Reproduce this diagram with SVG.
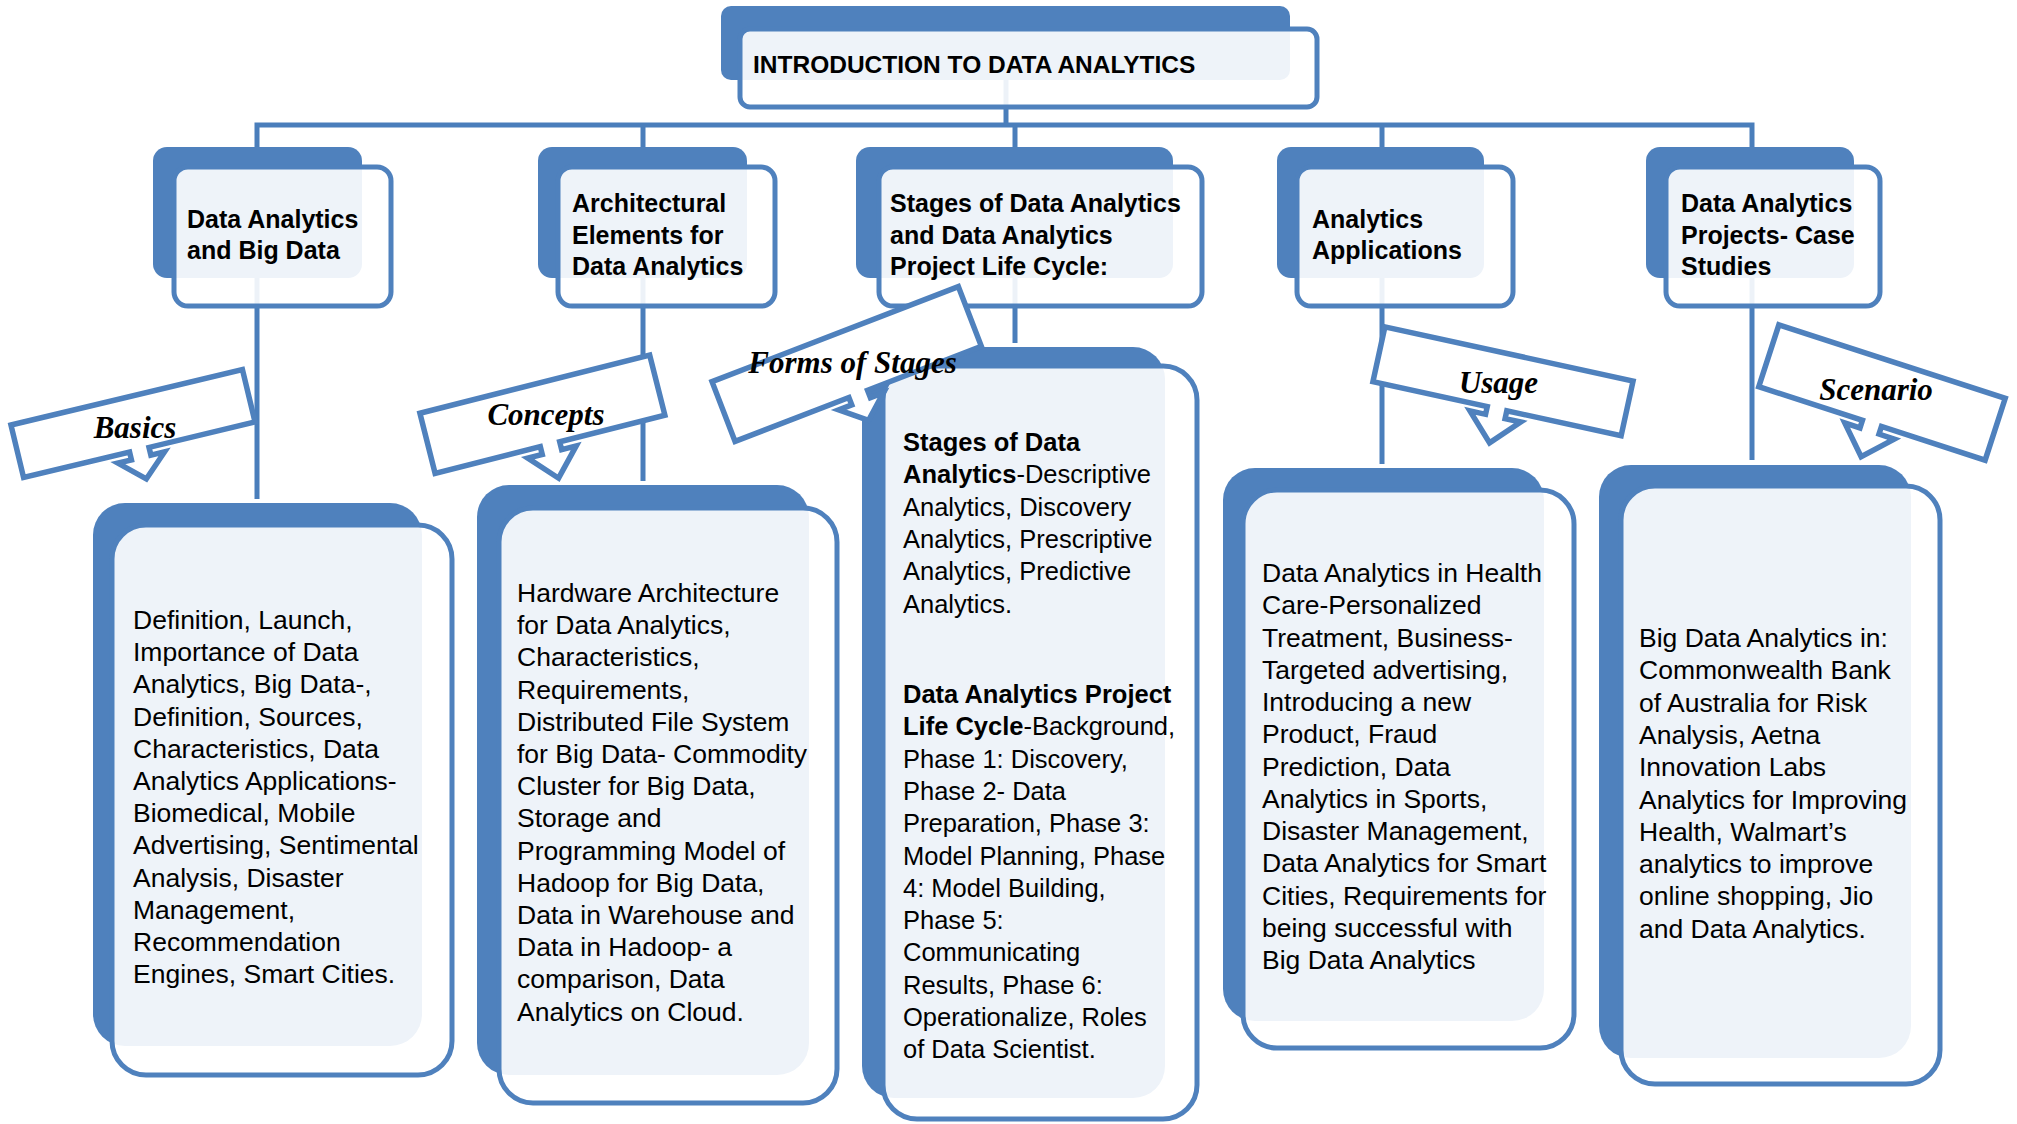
<svg xmlns="http://www.w3.org/2000/svg" width="2017" height="1124" viewBox="0 0 2017 1124">
<style>
.dk{fill:#4F81BD}
.fr{fill:#fff;fill-opacity:0.9;stroke:#4F81BD;stroke-width:5}
.ln{fill:none;stroke:#4A7EBB;stroke-width:5}
.co{fill:#fff;stroke:#4F81BD;stroke-width:5.5;stroke-linejoin:miter}
.h{font-family:"Liberation Sans",Arial,sans-serif;font-weight:bold;font-size:25px;fill:#000}
.t{font-family:"Liberation Sans",Arial,sans-serif;font-weight:bold;font-size:24.5px;fill:#000}
.b{font-family:"Liberation Sans",Arial,sans-serif;font-size:26.5px;fill:#000}
.s{font-family:"Liberation Sans",Arial,sans-serif;font-size:25.5px;fill:#000}
.s tspan.k{font-weight:bold}
.c{font-family:"Liberation Serif","Times New Roman",serif;font-style:italic;font-weight:bold;font-size:31px;fill:#000;text-anchor:middle}
</style>
<rect width="2017" height="1124" fill="#fff"/>

<g id="connectors">
<path class="ln" d="M1006,80 V125"/>
<path class="ln" d="M257,150 V125 H1752 V150"/>
<path class="ln" d="M643,125 V150 M1015,125 V150 M1382,125 V150"/>
<path class="ln" d="M257,270 V499 M643,270 V481 M1015,270 V343 M1382,270 V464 M1752,270 V460"/>
</g>

<g id="root">
<rect class="dk" x="721" y="6" width="569" height="74" rx="10"/>
<rect class="fr" x="740" y="29" width="577" height="78" rx="10"/>
<text class="t" x="753" y="73">INTRODUCTION TO DATA ANALYTICS</text>
</g>

<g id="n1">
<rect class="dk" x="153" y="147" width="209" height="131" rx="14"/>
<rect class="fr" x="174" y="167" width="217" height="139" rx="14"/>
<text class="h"><tspan x="187" y="228">Data Analytics</tspan><tspan x="187" y="259">and Big Data</tspan></text>
</g>
<g id="n2">
<rect class="dk" x="538" y="147" width="209" height="131" rx="14"/>
<rect class="fr" x="558" y="167" width="217" height="139" rx="14"/>
<text class="h"><tspan x="572" y="212">Architectural</tspan><tspan x="572" y="244">Elements for</tspan><tspan x="572" y="275">Data Analytics</tspan></text>
</g>
<g id="n3">
<rect class="dk" x="856" y="147" width="317" height="131" rx="14"/>
<rect class="fr" x="879" y="167" width="323" height="139" rx="14"/>
<text class="h"><tspan x="890" y="212">Stages of Data Analytics</tspan><tspan x="890" y="244">and Data Analytics</tspan><tspan x="890" y="275">Project Life Cycle:</tspan></text>
</g>
<g id="n4">
<rect class="dk" x="1277" y="147" width="207" height="131" rx="14"/>
<rect class="fr" x="1297" y="167" width="216" height="139" rx="14"/>
<text class="h"><tspan x="1312" y="228">Analytics</tspan><tspan x="1312" y="259">Applications</tspan></text>
</g>
<g id="n5">
<rect class="dk" x="1646" y="147" width="208" height="131" rx="14"/>
<rect class="fr" x="1666" y="167" width="214" height="139" rx="14"/>
<text class="h"><tspan x="1681" y="212">Data Analytics</tspan><tspan x="1681" y="244">Projects- Case</tspan><tspan x="1681" y="275">Studies</tspan></text>
</g>

<g id="d1">
<rect class="dk" x="93" y="503" width="329" height="543" rx="32"/>
<rect class="fr" x="112" y="525" width="340" height="550" rx="34"/>
<text class="b"><tspan x="133" y="629">Definition, Launch,</tspan><tspan x="133" dy="32.2">Importance of Data</tspan><tspan x="133" dy="32.2">Analytics, Big Data-,</tspan><tspan x="133" dy="32.2">Definition, Sources,</tspan><tspan x="133" dy="32.2">Characteristics, Data</tspan><tspan x="133" dy="32.2">Analytics Applications-</tspan><tspan x="133" dy="32.2">Biomedical, Mobile</tspan><tspan x="133" dy="32.2">Advertising, Sentimental</tspan><tspan x="133" dy="32.2">Analysis, Disaster</tspan><tspan x="133" dy="32.2">Management,</tspan><tspan x="133" dy="32.2">Recommendation</tspan><tspan x="133" dy="32.2">Engines, Smart Cities.</tspan></text>
</g>
<g id="d2">
<rect class="dk" x="477" y="485" width="332" height="590" rx="32"/>
<rect class="fr" x="499" y="508" width="338" height="595" rx="34"/>
<text class="b"><tspan x="517" y="602">Hardware Architecture</tspan><tspan x="517" dy="32.2">for Data Analytics,</tspan><tspan x="517" dy="32.2">Characteristics,</tspan><tspan x="517" dy="32.2">Requirements,</tspan><tspan x="517" dy="32.2">Distributed File System</tspan><tspan x="517" dy="32.2">for Big Data- Commodity</tspan><tspan x="517" dy="32.2">Cluster for Big Data,</tspan><tspan x="517" dy="32.2">Storage and</tspan><tspan x="517" dy="32.2">Programming Model of</tspan><tspan x="517" dy="32.2">Hadoop for Big Data,</tspan><tspan x="517" dy="32.2">Data in Warehouse and</tspan><tspan x="517" dy="32.2">Data in Hadoop- a</tspan><tspan x="517" dy="32.2">comparison, Data</tspan><tspan x="517" dy="32.2">Analytics on Cloud.</tspan></text>
</g>
<g id="d3">
<rect class="dk" x="862" y="347" width="303" height="751" rx="32"/>
<rect class="fr" x="883" y="366" width="314" height="753" rx="34"/>
<text class="s"><tspan x="903" y="451" class="k">Stages of Data</tspan><tspan x="903" dy="32.3"><tspan class="k">Analytics</tspan>-Descriptive</tspan><tspan x="903" dy="32.3">Analytics, Discovery</tspan><tspan x="903" dy="32.3">Analytics, Prescriptive</tspan><tspan x="903" dy="32.3">Analytics, Predictive</tspan><tspan x="903" dy="32.3">Analytics.</tspan><tspan x="903" y="703" class="k">Data Analytics Project</tspan><tspan x="903" dy="32.3"><tspan class="k">Life Cycle</tspan>-Background,</tspan><tspan x="903" dy="32.3">Phase 1: Discovery,</tspan><tspan x="903" dy="32.3">Phase 2- Data</tspan><tspan x="903" dy="32.3">Preparation, Phase 3:</tspan><tspan x="903" dy="32.3">Model Planning, Phase</tspan><tspan x="903" dy="32.3">4: Model Building,</tspan><tspan x="903" dy="32.3">Phase 5:</tspan><tspan x="903" dy="32.3">Communicating</tspan><tspan x="903" dy="32.3">Results, Phase 6:</tspan><tspan x="903" dy="32.3">Operationalize, Roles</tspan><tspan x="903" dy="32.3">of Data Scientist.</tspan></text>
</g>
<g id="d4">
<rect class="dk" x="1223" y="468" width="321" height="553" rx="32"/>
<rect class="fr" x="1243" y="490" width="331" height="558" rx="34"/>
<text class="b"><tspan x="1262" y="582">Data Analytics in Health</tspan><tspan x="1262" dy="32.25">Care-Personalized</tspan><tspan x="1262" dy="32.25">Treatment, Business-</tspan><tspan x="1262" dy="32.25">Targeted advertising,</tspan><tspan x="1262" dy="32.25">Introducing a new</tspan><tspan x="1262" dy="32.25">Product, Fraud</tspan><tspan x="1262" dy="32.25">Prediction, Data</tspan><tspan x="1262" dy="32.25">Analytics in Sports,</tspan><tspan x="1262" dy="32.25">Disaster Management,</tspan><tspan x="1262" dy="32.25">Data Analytics for Smart</tspan><tspan x="1262" dy="32.25">Cities, Requirements for</tspan><tspan x="1262" dy="32.25">being successful with</tspan><tspan x="1262" dy="32.25">Big Data Analytics</tspan></text>
</g>
<g id="d5">
<rect class="dk" x="1599" y="465" width="312" height="593" rx="32"/>
<rect class="fr" x="1621" y="486" width="319" height="598" rx="34"/>
<text class="b"><tspan x="1639" y="647">Big Data Analytics in:</tspan><tspan x="1639" dy="32.3">Commonwealth Bank</tspan><tspan x="1639" dy="32.3">of Australia for Risk</tspan><tspan x="1639" dy="32.3">Analysis, Aetna</tspan><tspan x="1639" dy="32.3">Innovation Labs</tspan><tspan x="1639" dy="32.3">Analytics for Improving</tspan><tspan x="1639" dy="32.3">Health, Walmart’s</tspan><tspan x="1639" dy="32.3">analytics to improve</tspan><tspan x="1639" dy="32.3">online shopping, Jio</tspan><tspan x="1639" dy="32.3">and Data Analytics.</tspan></text>
</g>

<g id="callout-basics">
<path class="co" transform="translate(133,423.5) rotate(-13.5)" d="M-119,-27 H119 V27 H10 V35 H24 L0,57 L-24,35 H-10 V27 H-119 Z"/>
<text class="c" x="135" y="438">Basics</text>
</g>
<g id="callout-concepts">
<path class="co" transform="translate(542.4,414.2) rotate(-14.2)" d="M-118.5,-31 H118.5 V31 H10 V39 H25 L0,66 L-25,39 H-10 V31 H-118.5 Z"/>
<text class="c" x="546" y="425">Concepts</text>
</g>
<g id="callout-stages">
<path class="co" transform="translate(846.7,364) rotate(-21.1)" d="M-132,-32 H132 V32 H10 V40 H24 L0,60.5 L-24,40 H-10 V32 H-132 Z"/>
<text class="c" x="852.5" y="373">Forms of Stages</text>
</g>
<g id="callout-usage">
<path class="co" transform="translate(1503,381.3) rotate(12.3)" d="M-127,-28 H127 V28 H10 V36 H26 L0,63 L-26,36 H-10 V28 H-127 Z"/>
<text class="c" x="1498.5" y="393">Usage</text>
</g>
<g id="callout-scenario">
<path class="co" transform="translate(1882,392.5) rotate(18)" d="M-119,-32.5 H119 V32.5 H10 V40.5 H26 L0,67.5 L-26,40.5 H-10 V32.5 H-119 Z"/>
<text class="c" x="1876" y="400">Scenario</text>
</g>
</svg>
